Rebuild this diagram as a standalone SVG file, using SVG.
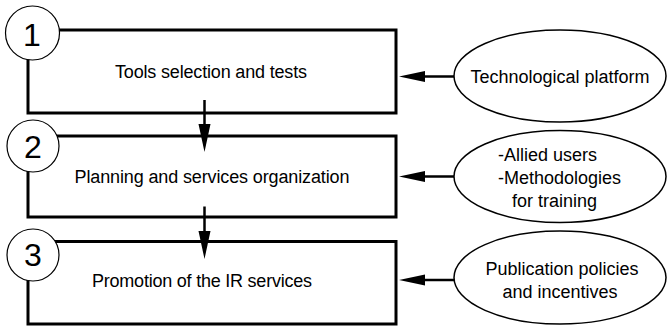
<svg xmlns="http://www.w3.org/2000/svg" width="667" height="326" viewBox="0 0 667 326">
<style>
.box{fill:none;stroke:#000;stroke-width:3}
.num{fill:#fff;stroke:#000;stroke-width:1.2}
.ell{fill:#fff;stroke:#000;stroke-width:1.5}
.conn{stroke:#000;stroke-width:2.5;fill:none}
.head{fill:#000;stroke:none}
text{font-family:"Liberation Sans",Arial,sans-serif;fill:#000}
.lbl{font-size:18px}
.big{font-size:32px;text-anchor:middle}
.mid{text-anchor:middle}
</style>
<rect width="667" height="326" fill="#fff"/>
<g id="step1">
<rect class="box" x="28" y="30" width="368" height="83"/>
<circle class="num" cx="32.5" cy="33" r="27"/>
<text class="big" x="32" y="46">1</text>
<text class="lbl mid" x="211" y="78" textLength="192">Tools selection and tests</text>
</g>
<g id="step2">
<rect class="box" x="28" y="136" width="368" height="81"/>
<circle class="num" cx="33" cy="146" r="26"/>
<text class="big" x="33" y="158">2</text>
<text class="lbl mid" x="212" y="183" textLength="275">Planning and services organization</text>
</g>
<g id="step3">
<rect class="box" x="28" y="241.5" width="368" height="82.5"/>
<circle class="num" cx="33" cy="255" r="26"/>
<text class="big" x="33" y="266">3</text>
<text class="lbl mid" x="202" y="287" textLength="220">Promotion of the IR services</text>
</g>
<g id="input1">
<ellipse class="ell" cx="560" cy="76" rx="106" ry="46"/>
<text class="lbl mid" x="560" y="83">Technological platform</text>
</g>
<g id="input2">
<ellipse class="ell" cx="560" cy="176.5" rx="106" ry="46"/>
<text class="lbl" x="498" y="160.5">-Allied users</text>
<text class="lbl" x="498" y="184">-Methodologies</text>
<text class="lbl" x="512" y="207">for training</text>
</g>
<g id="input3">
<ellipse class="ell" cx="560" cy="277.5" rx="106" ry="46.5"/>
<text class="lbl mid" x="562" y="275">Publication policies</text>
<text class="lbl mid" x="560" y="298">and incentives</text>
</g>
<g id="connectors">
<line class="conn" x1="204.5" y1="100" x2="204.5" y2="126"/>
<polygon class="head" points="198.5,124 210.5,124 204.5,152"/>
<line class="conn" x1="204.5" y1="206.5" x2="204.5" y2="233"/>
<polygon class="head" points="198.5,231 210.5,231 204.5,259"/>
<line class="conn" x1="454" y1="76.5" x2="423" y2="76.5"/>
<polygon class="head" points="425,71 425,82 399,76.5"/>
<line class="conn" x1="454" y1="176.5" x2="423" y2="176.5"/>
<polygon class="head" points="425,171 425,182 399,176.5"/>
<line class="conn" x1="454" y1="280" x2="423" y2="280"/>
<polygon class="head" points="425,274.5 425,285.5 399,280"/>
</g>
</svg>
